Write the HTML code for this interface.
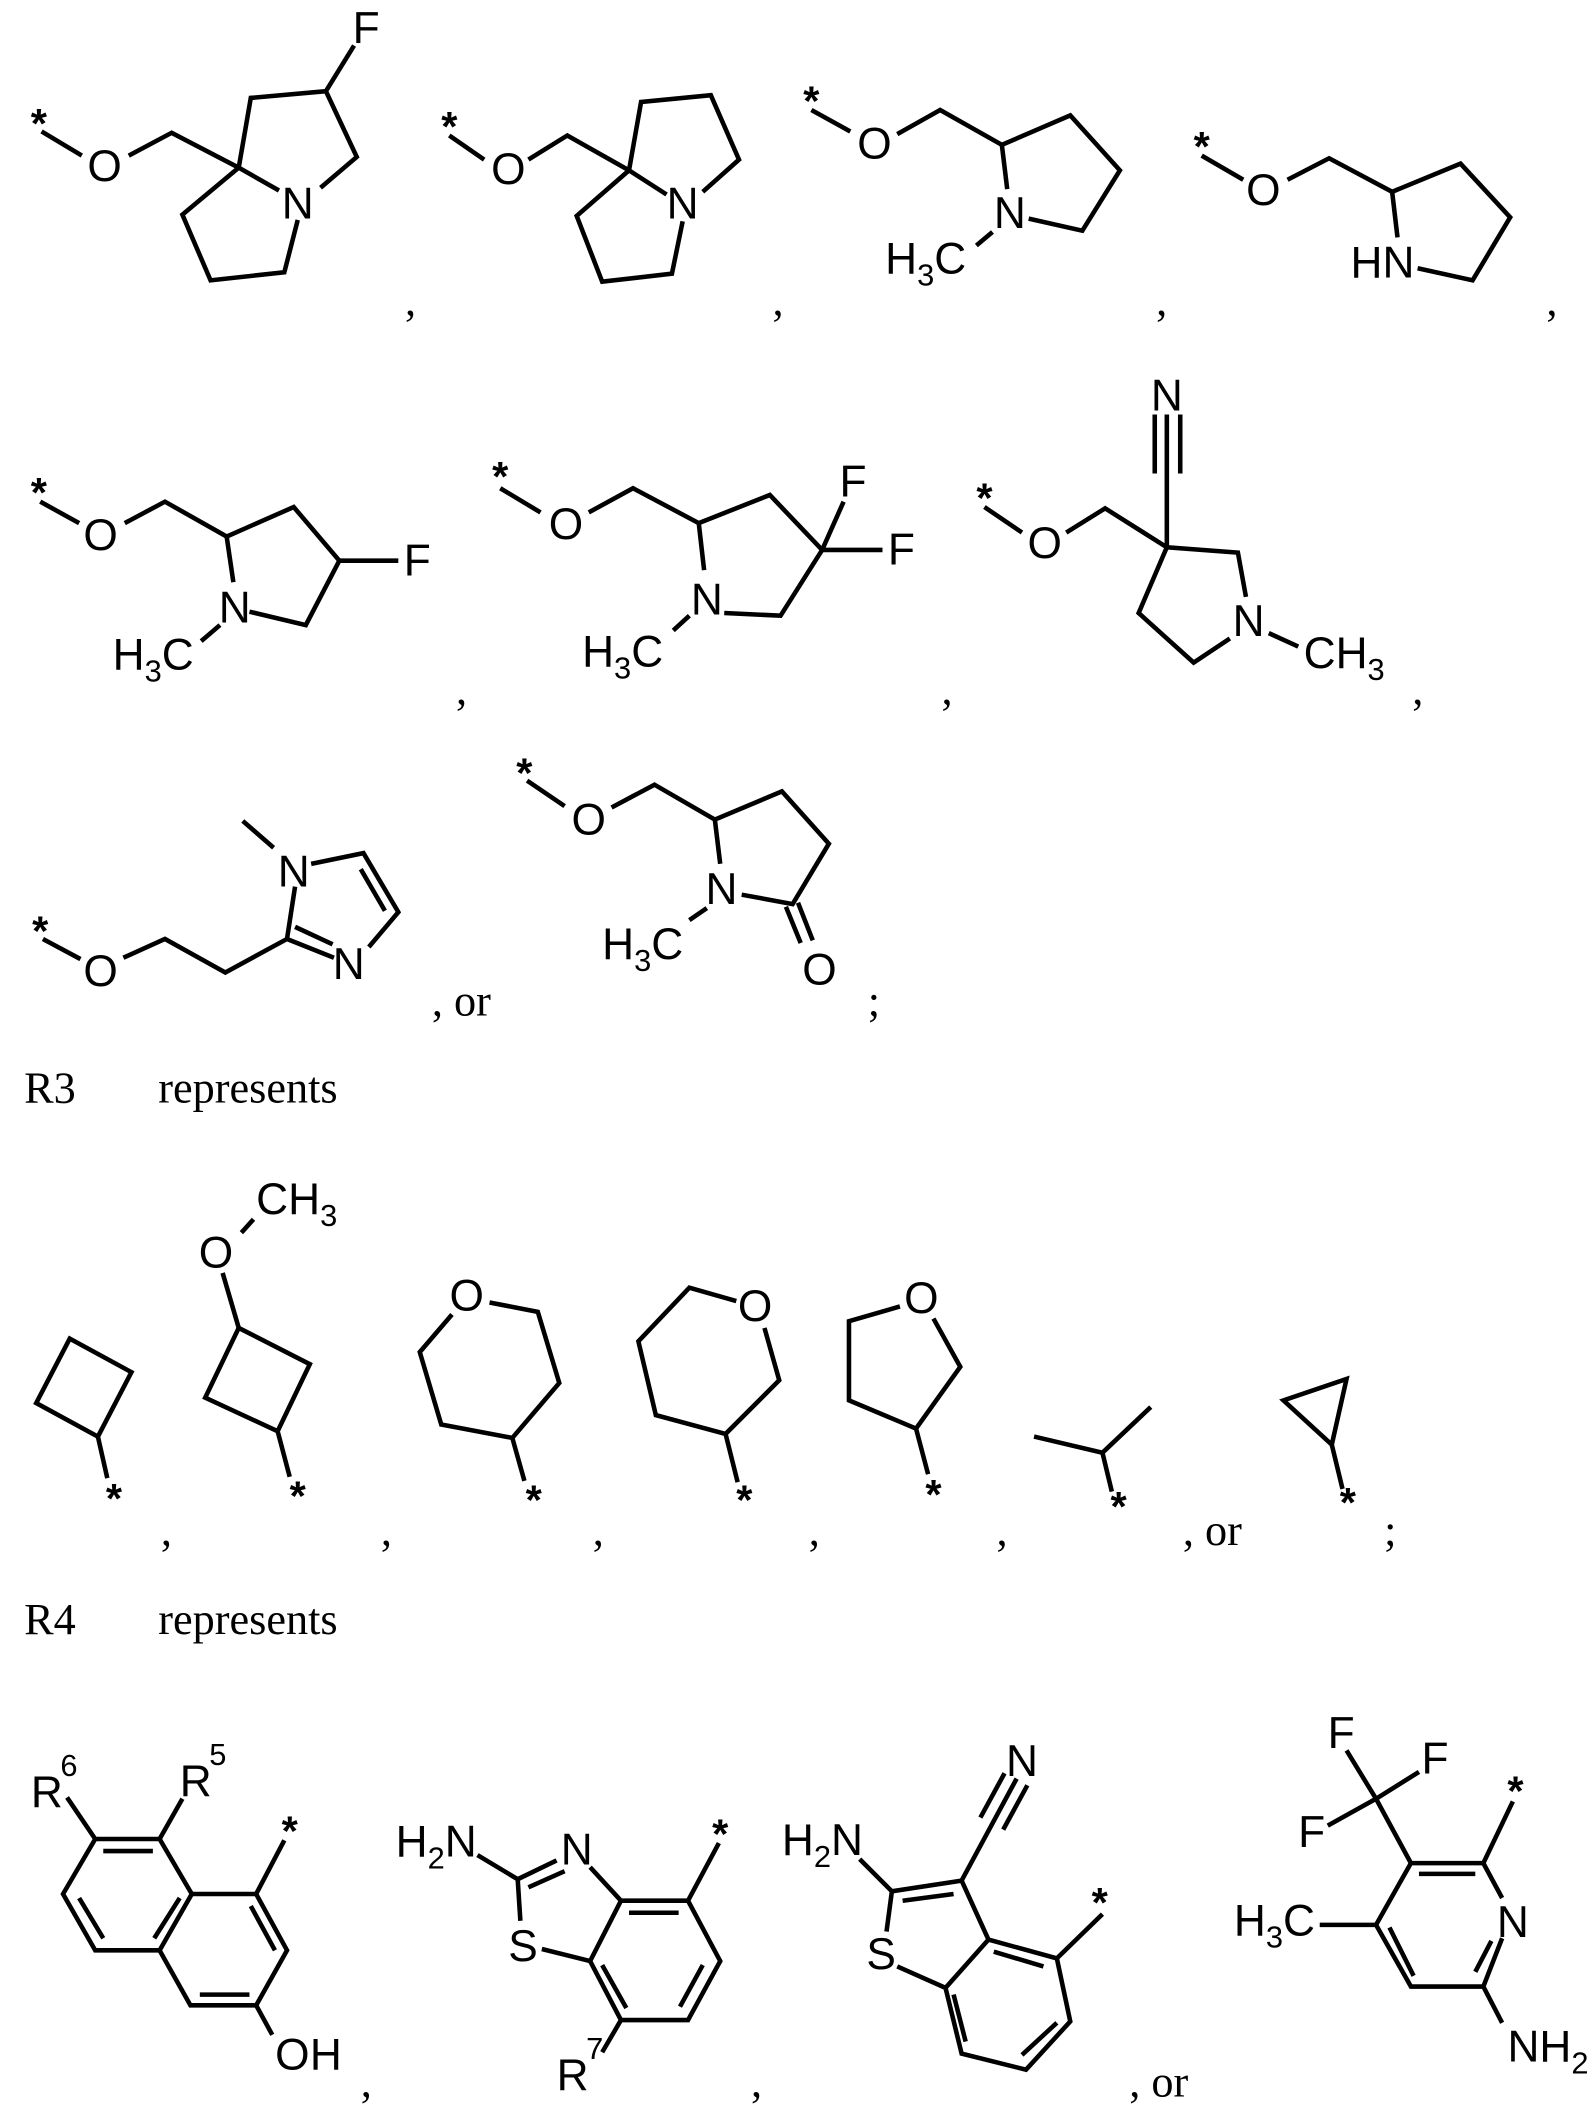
<!DOCTYPE html>
<html><head><meta charset="utf-8"><style>
html,body{margin:0;padding:0;background:#fff;width:1596px;height:2118px;overflow:hidden}
svg{display:block}
.b{fill:none;stroke:#000;stroke-width:3.4;stroke-linejoin:miter;stroke-linecap:butt}
.a{font-family:"Liberation Sans",Arial,sans-serif;font-size:33px;fill:#000}
.m{text-anchor:middle}
.s{font-family:"Liberation Sans",Arial,sans-serif;font-size:31px;font-weight:bold;fill:#000;text-anchor:middle}
.t{font-family:"Liberation Serif","Times New Roman",serif;font-size:33px;fill:#000}
</style></head><body>
<svg width="1596" height="2118" viewBox="0 0 1190 1579" preserveAspectRatio="none" xmlns="http://www.w3.org/2000/svg">
<g class="b">
<polyline points="31,98 61,116"/>
<polyline points="96,116 128,99 178,125 208,142"/>
<polyline points="178,125 187,73 243,68 266,117 239,140"/>
<polyline points="243,68 264,34"/>
<polyline points="178,125 136,160 157,209 212,203 222,164"/>
<polyline points="335,101 361,119"/>
<polyline points="394,119 423,101 469,127 497,145"/>
<polyline points="469,127 478,76 530,71 551,119 524,143"/>
<polyline points="469,127 430,161 449,210 501,204 509,165"/>
<polyline points="605,82 634,98"/>
<polyline points="669,100 701,82 747,108 798,86 835,127 807,172 767,163"/>
<polyline points="747,108 751,141"/>
<polyline points="740,173 728,183"/>
<polyline points="896,116 927,134"/>
<polyline points="960,134 991,118 1038,143 1089,122 1126,162 1098,209 1057,200"/>
<polyline points="1038,143 1042,177"/>
<polyline points="30,374 59,390"/>
<polyline points="93,390 123,374 169,400 219,378 253,418 228,466 186,456"/>
<polyline points="169,400 174,434"/>
<polyline points="253,418 297,418"/>
<polyline points="164,466 150,478"/>
<polyline points="373,364 403,382"/>
<polyline points="439,382 472,364 521,390 574,369 613,410 582,459 540,457"/>
<polyline points="521,390 525,425"/>
<polyline points="613,410 629,374"/>
<polyline points="613,410 658,410"/>
<polyline points="514,459 502,470"/>
<polyline points="734,378 762,397"/>
<polyline points="795,397 824,379 870,408 923,412 929,445"/>
<polyline points="870,408 849,457 890,494 917,476"/>
<polyline points="870,408 870,309"/>
<polyline points="861,309 861,353"/>
<polyline points="880,309 880,353"/>
<polyline points="946,472 968,482"/>
<polyline points="32,700 60,715"/>
<polyline points="92,714 123,700 168,725 214,700 220,661"/>
<polyline points="181,612 204,632"/>
<polyline points="232,644 271,636 297,680 275,706"/>
<polyline points="269,648 287,679"/>
<polyline points="214,700 249,714"/>
<polyline points="220,691 248,704"/>
<polyline points="393,582 421,601"/>
<polyline points="456,602 488,585 533,611 583,590 618,629 591,674 553,667"/>
<polyline points="533,611 537,644"/>
<polyline points="527,677 514,686"/>
<polyline points="586,676 597,703"/>
<polyline points="595,673 606,701"/>
<polygon points="52,998 98,1023 73,1071 27,1046"/>
<polyline points="73,1071 80,1102"/>
<polygon points="178,990 231,1017 207,1067 153,1042"/>
<polyline points="178,990 166,949"/>
<polyline points="180,919 189,909"/>
<polyline points="207,1067 216,1101"/>
<polyline points="365,971 401,978 417,1031 382,1072 329,1062 313,1008 337,980"/>
<polyline points="382,1072 391,1104"/>
<polyline points="549,970 514,960 476,1000 489,1055 541,1069 581,1029 570,990"/>
<polyline points="541,1069 550,1105"/>
<polyline points="671,974 633,985 633,1044 683,1065 716,1019 696,983"/>
<polyline points="683,1065 692,1099"/>
<polyline points="771,1071 822,1083 858,1049"/>
<polyline points="822,1083 829,1112"/>
<polygon points="957,1044 1004,1028 993,1077"/>
<polyline points="993,1077 1001,1110"/>
<polygon points="71,1371 119,1371 143,1412 119,1454 71,1454 47,1412"/>
<polyline points="143,1412 191,1412 214,1454 191,1495 142,1495 119,1454"/>
<polyline points="77,1380 114,1380"/>
<polyline points="59,1415 77,1445"/>
<polyline points="134,1415 115,1445"/>
<polyline points="187,1421 205,1454"/>
<polyline points="149,1487 186,1487"/>
<polyline points="71,1371 50,1340"/>
<polyline points="119,1371 136,1341"/>
<polyline points="191,1412 212,1372"/>
<polyline points="191,1495 203,1517"/>
<polyline points="356,1383 386,1401 415,1387"/>
<polyline points="394,1407 421,1395"/>
<polyline points="440,1392 463,1417 513,1417 537,1462 513,1506 463,1506 440,1462 463,1417"/>
<polyline points="469,1426 506,1426"/>
<polyline points="524,1465 507,1496"/>
<polyline points="449,1465 467,1497"/>
<polyline points="440,1462 404,1453"/>
<polyline points="388,1432 386,1401"/>
<polyline points="513,1417 536,1374"/>
<polyline points="463,1506 449,1530"/>
<polyline points="641,1386 665,1410 717,1402 737,1446 788,1460 798,1507 765,1543 717,1531 705,1482 737,1446"/>
<polyline points="661,1440 665,1410"/>
<polyline points="669,1466 705,1482"/>
<polyline points="673,1417 711,1412"/>
<polyline points="741,1455 778,1466"/>
<polyline points="788,1508 762,1532"/>
<polyline points="711,1487 720,1522"/>
<polyline points="717,1402 758,1326"/>
<polyline points="731,1355 749,1322"/>
<polyline points="748,1364 766,1331"/>
<polyline points="788,1460 822,1427"/>
<polyline points="1120,1415 1106,1389 1052,1389 1026,1435 1052,1481 1106,1481 1120,1445"/>
<polyline points="1058,1397 1100,1397"/>
<polyline points="1112,1447 1100,1470"/>
<polyline points="1036,1437 1054,1473"/>
<polyline points="1106,1481 1120,1508"/>
<polyline points="1052,1389 1026,1341 1004,1305"/>
<polyline points="1026,1341 1058,1321"/>
<polyline points="1026,1341 990,1361"/>
<polyline points="1026,1435 984,1435"/>
<polyline points="1106,1389 1128,1343"/>
</g>

<g class="s" transform="translate(0,-5)">
<text x="29" y="108">*</text><text x="335" y="110">*</text><text x="605" y="91">*</text><text x="896" y="125">*</text>
<text x="29" y="383">*</text><text x="373" y="371">*</text><text x="734" y="387">*</text>
<text x="30" y="710">*</text><text x="391" y="592">*</text>
<text x="85" y="1133">*</text><text x="222" y="1131">*</text><text x="398" y="1134">*</text><text x="555" y="1134">*</text><text x="696" y="1130">*</text><text x="834" y="1139">*</text><text x="1005" y="1136">*</text>
<text x="216" y="1381">*</text><text x="537" y="1383">*</text><text x="820" y="1434">*</text><text x="1130" y="1351">*</text>
</g>

<g class="a">
<text class="m" x="78" y="135">O</text><text class="m" x="222" y="163">N</text><text class="m" x="273" y="32">F</text>
<text class="m" x="379" y="137">O</text><text class="m" x="509" y="163">N</text>
<text class="m" x="652" y="118">O</text><text class="m" x="753" y="170">N</text>
<text x="660" y="204">H<tspan font-size="23" dy="9">3</tspan><tspan dy="-9">C</tspan></text>
<text class="m" x="942" y="153">O</text><text x="1007" y="207">HN</text>

<text class="m" x="75" y="410">O</text><text class="m" x="175" y="464">N</text><text x="301" y="429">F</text>
<text x="84" y="499">H<tspan font-size="23" dy="9">3</tspan><tspan dy="-9">C</tspan></text>
<text class="m" x="422" y="402">O</text><text class="m" x="527" y="458">N</text><text class="m" x="636" y="370">F</text><text x="662" y="421">F</text>
<text x="434" y="497">H<tspan font-size="23" dy="9">3</tspan><tspan dy="-9">C</tspan></text>
<text class="m" x="779" y="416">O</text><text class="m" x="870" y="306">N</text><text class="m" x="931" y="474">N</text>
<text x="972" y="498">CH<tspan font-size="23" dy="9">3</tspan></text>

<text class="m" x="75" y="735">O</text><text class="m" x="219" y="661">N</text><text class="m" x="260" y="730">N</text>
<text class="m" x="439" y="622">O</text><text class="m" x="538" y="674">N</text><text class="m" x="611" y="734">O</text>
<text x="449" y="715">H<tspan font-size="23" dy="9">3</tspan><tspan dy="-9">C</tspan></text>

<text class="m" x="161" y="945">O</text><text x="191" y="905">CH<tspan font-size="23" dy="9">3</tspan></text>
<text class="m" x="348" y="977">O</text><text class="m" x="563" y="985">O</text><text class="m" x="687" y="979">O</text>

<text x="23" y="1347">R</text><text x="45" y="1324" font-size="23">6</text>
<text x="134" y="1339">R</text><text x="156" y="1316" font-size="23">5</text>
<text class="m" x="218" y="1543">O</text><text class="m" x="243" y="1543">H</text>
<text x="295" y="1384">H<tspan font-size="23" dy="9">2</tspan><tspan dy="-9">N</tspan></text>
<text class="m" x="430" y="1390">N</text><text class="m" x="390" y="1462">S</text>
<text x="415" y="1558">R</text><text x="437" y="1535" font-size="23">7</text>
<text x="583" y="1383">H<tspan font-size="23" dy="9">2</tspan><tspan dy="-9">N</tspan></text>
<text class="m" x="657" y="1468">S</text><text class="m" x="762" y="1324">N</text>
<text class="m" x="1000" y="1303">F</text><text class="m" x="1070" y="1322">F</text><text class="m" x="978" y="1377">F</text>
<text x="920" y="1443">H<tspan font-size="23" dy="9">3</tspan><tspan dy="-9">C</tspan></text>
<text class="m" x="1128" y="1444">N</text>
<text x="1124" y="1537">NH<tspan font-size="23" dy="9">2</tspan></text>
</g>

<g class="t">
<text x="302" y="235">,</text><text x="576" y="235">,</text><text x="862" y="235">,</text><text x="1153" y="235">,</text>
<text x="340" y="525">,</text><text x="702" y="525">,</text><text x="1053" y="525">,</text>
<text x="322" y="757">, or</text><text x="647" y="757">;</text>
<text x="18" y="822">R3</text><text x="118" y="822">represents</text>
<text x="120" y="1152">,</text><text x="284" y="1152">,</text><text x="442" y="1152">,</text><text x="603" y="1152">,</text><text x="743" y="1152">,</text>
<text x="882" y="1152">, or</text><text x="1032" y="1152">;</text>
<text x="18" y="1218">R4</text><text x="118" y="1218">represents</text>
<text x="269" y="1563">,</text><text x="560" y="1563">,</text><text x="842" y="1563">, or</text>
</g>
</svg>
</body></html>
